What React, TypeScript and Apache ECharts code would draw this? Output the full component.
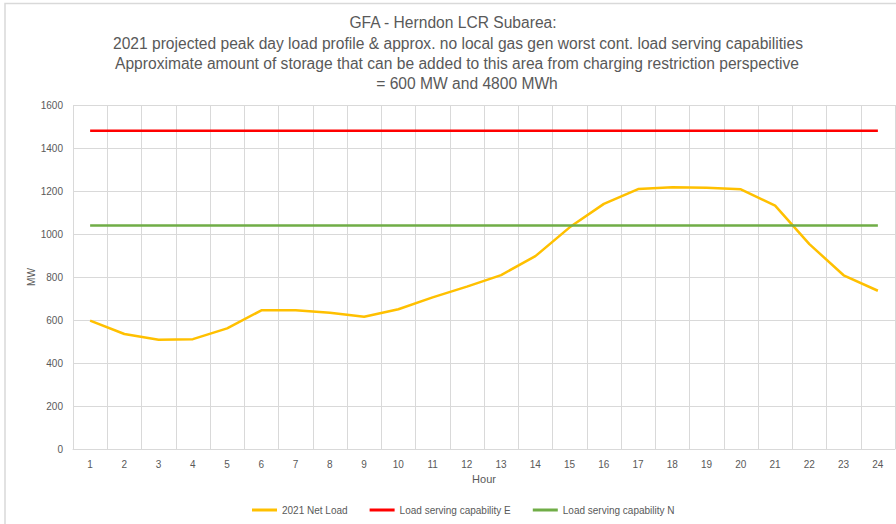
import React, { useEffect, useRef } from "react";
import * as echarts from "echarts";

const hours = ["1", "2", "3", "4", "5", "6", "7", "8", "9", "10", "11", "12", "13", "14", "15", "16", "17", "18", "19", "20", "21", "22", "23", "24"];
const netLoad = [597, 535, 508, 511, 561, 645, 645, 634, 615, 650, 705, 755, 809, 897, 1031, 1140, 1209, 1218, 1215, 1208, 1132, 953, 808, 736];
const capE = [1480, 1480, 1480, 1480, 1480, 1480, 1480, 1480, 1480, 1480, 1480, 1480, 1480, 1480, 1480, 1480, 1480, 1480, 1480, 1480, 1480, 1480, 1480, 1480];
const capN = [1040, 1040, 1040, 1040, 1040, 1040, 1040, 1040, 1040, 1040, 1040, 1040, 1040, 1040, 1040, 1040, 1040, 1040, 1040, 1040, 1040, 1040, 1040, 1040];
const seriesNames = ["2021 Net Load", "Load serving capability E", "Load serving capability N"];
const titleLines = [
  "GFA - Herndon LCR Subarea:",
  "2021 projected peak day load profile & approx. no local gas gen worst cont. load serving capabilities",
  "Approximate amount of storage that can be added to this area from charging restriction perspective",
  "= 600 MW and 4800 MWh",
];

const FONT = "'Liberation Sans', Arial, sans-serif";
const GRAY = "#595959";
const GRID = "#d9d9d9";

export default function App() {
  const ref = useRef<HTMLDivElement>(null);
  useEffect(() => {
    if (!ref.current) return;
    const chart = echarts.init(ref.current, undefined, { renderer: "svg" });
    const titleX = [453, 458, 457, 467];
    const titleY = [22, 43, 63, 83];
    chart.setOption({
      animation: false,
      backgroundColor: "#ffffff",
      textStyle: { fontFamily: FONT },
      graphic: [
        {
          type: "rect",
          shape: { x: 5, y: 3.5, width: 1000, height: 1000 },
          style: { fill: "none", stroke: "#d9d9d9", lineWidth: 1.5 },
          silent: true,
          z: -1,
        },
        ...titleLines.map((t, i) => ({
          type: "text",
          x: titleX[i],
          y: titleY[i],
          style: {
            text: t,
            fill: GRAY,
            font: `15.6px ${FONT}`,
            align: "center",
            verticalAlign: "middle",
          },
        })),
      ],
      legend: {
        left: 252,
        top: 505,
        padding: 0,
        icon: "rect",
        itemWidth: 25,
        itemHeight: 3,
        itemGap: 22,
        textStyle: { color: GRAY, fontSize: 10, fontFamily: FONT },
        data: seriesNames,
      },
      grid: { left: 73, right: 1, top: 105, bottom: 75, containLabel: false },
      xAxis: {
        type: "category",
        data: hours,
        boundaryGap: true,
        name: "Hour",
        nameLocation: "middle",
        nameGap: 24,
        nameTextStyle: { color: GRAY, fontSize: 11, fontFamily: FONT },
        axisLine: { lineStyle: { color: GRID, width: 1 } },
        axisTick: { show: false },
        axisLabel: { color: GRAY, fontSize: 10, margin: 10, interval: 0, fontFamily: FONT },
        splitLine: { show: true, lineStyle: { color: GRID, width: 1 } },
      },
      yAxis: {
        type: "value",
        min: 0,
        max: 1600,
        interval: 200,
        name: "MW",
        nameLocation: "middle",
        nameGap: 37,
        nameMoveOverlap: false,
        nameTextStyle: { color: GRAY, fontSize: 10, fontFamily: FONT },
        axisLine: { show: false },
        axisTick: { show: false },
        axisLabel: {
          color: GRAY,
          fontSize: 10,
          margin: 10,
          fontFamily: FONT,
          formatter: (v: number) => String(v),
        },
        splitLine: { show: true, lineStyle: { color: GRID, width: 1 } },
      },
      series: [
        {
          name: seriesNames[0],
          type: "line",
          data: netLoad,
          symbol: "none",
          lineStyle: { color: "#FFC000", width: 2.5 },
          itemStyle: { color: "#FFC000" },
        },
        {
          name: seriesNames[1],
          type: "line",
          data: capE,
          symbol: "none",
          lineStyle: { color: "#FF0000", width: 2.5 },
          itemStyle: { color: "#FF0000" },
        },
        {
          name: seriesNames[2],
          type: "line",
          data: capN,
          symbol: "none",
          lineStyle: { color: "#70AD47", width: 2.5 },
          itemStyle: { color: "#70AD47" },
        },
      ],
    });
    return () => chart.dispose();
  }, []);
  return (
    <div
      ref={ref}
      style={{ position: "absolute", left: 0, top: 0, width: 896, height: 524 }}
    />
  );
}
